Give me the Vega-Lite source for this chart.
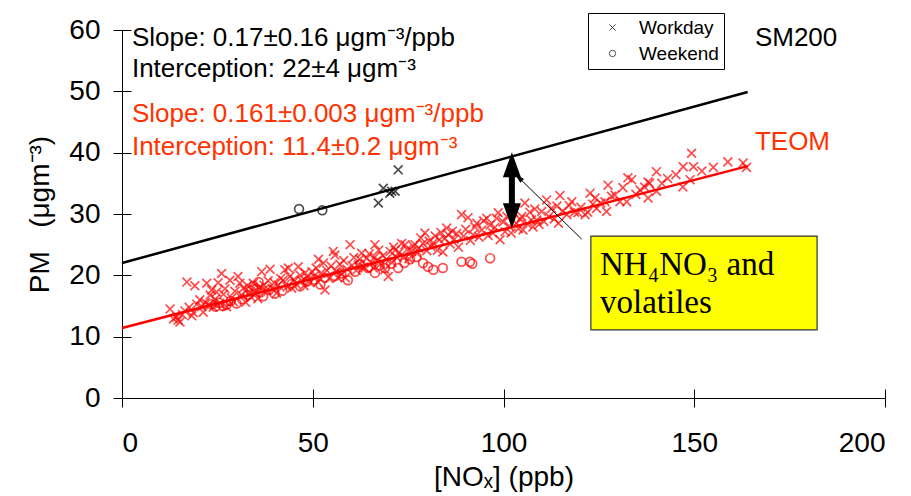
{
  "$schema": "https://vega.github.io/schema/vega-lite/v6.json",
  "width": 763,
  "height": 368,
  "autosize": "none",
  "padding": {"left": 122, "top": 30, "right": 26, "bottom": 98},
  "background": "white",
  "config": {
    "view": {"stroke": null},
    "font": "Liberation Sans",
    "axis": {
      "domainColor": "black",
      "tickColor": "black",
      "labelColor": "black",
      "titleColor": "black",
      "grid": false,
      "labelFont": "Liberation Sans",
      "titleFont": "Liberation Sans",
      "titleFontWeight": "normal"
    }
  },
  "datasets": {
    "pts": [
      {"nox":12.6,"pm":14.5,"inst":"TEOM","day":"Workday"},{"nox":13.5,"pm":12.9,"inst":"TEOM","day":"Workday"},{"nox":14.3,"pm":13.2,"inst":"TEOM","day":"Workday"},{"nox":14.7,"pm":12.7,"inst":"TEOM","day":"Workday"},{"nox":15.2,"pm":12.4,"inst":"TEOM","day":"Workday"},
      {"nox":15.8,"pm":13.6,"inst":"TEOM","day":"Workday"},{"nox":16.5,"pm":14.2,"inst":"TEOM","day":"Workday"},{"nox":17.0,"pm":18.9,"inst":"TEOM","day":"Workday"},{"nox":17.6,"pm":14.8,"inst":"TEOM","day":"Workday"},{"nox":18.3,"pm":13.4,"inst":"TEOM","day":"Workday"},
      {"nox":18.7,"pm":13.9,"inst":"TEOM","day":"Workday"},{"nox":19.1,"pm":18.3,"inst":"TEOM","day":"Workday"},{"nox":19.6,"pm":15.3,"inst":"TEOM","day":"Workday"},{"nox":20.4,"pm":16.0,"inst":"TEOM","day":"Workday"},{"nox":20.9,"pm":14.9,"inst":"TEOM","day":"Workday"},
      {"nox":21.3,"pm":14.0,"inst":"TEOM","day":"Workday"},{"nox":21.8,"pm":15.6,"inst":"TEOM","day":"Workday"},{"nox":22.2,"pm":18.7,"inst":"TEOM","day":"Workday"},{"nox":22.7,"pm":15.2,"inst":"TEOM","day":"Workday"},{"nox":23.1,"pm":16.8,"inst":"TEOM","day":"Workday"},
      {"nox":23.5,"pm":17.6,"inst":"TEOM","day":"Workday"},{"nox":23.9,"pm":14.8,"inst":"TEOM","day":"Workday"},{"nox":24.4,"pm":16.1,"inst":"TEOM","day":"Workday"},{"nox":24.8,"pm":17.3,"inst":"TEOM","day":"Workday"},{"nox":25.2,"pm":18.8,"inst":"TEOM","day":"Workday"},
      {"nox":25.7,"pm":15.5,"inst":"TEOM","day":"Workday"},{"nox":26.1,"pm":20.3,"inst":"TEOM","day":"Workday"},{"nox":26.6,"pm":16.9,"inst":"TEOM","day":"Workday"},{"nox":27.0,"pm":17.8,"inst":"TEOM","day":"Workday"},{"nox":27.4,"pm":14.9,"inst":"TEOM","day":"Workday"},
      {"nox":28.3,"pm":19.2,"inst":"TEOM","day":"Workday"},{"nox":28.7,"pm":16.3,"inst":"TEOM","day":"Workday"},{"nox":29.2,"pm":15.7,"inst":"TEOM","day":"Workday"},{"nox":29.6,"pm":17.4,"inst":"TEOM","day":"Workday"},{"nox":30.4,"pm":19.8,"inst":"TEOM","day":"Workday"},
      {"nox":30.9,"pm":18.7,"inst":"TEOM","day":"Workday"},{"nox":31.3,"pm":16.8,"inst":"TEOM","day":"Workday"},{"nox":31.8,"pm":17.9,"inst":"TEOM","day":"Workday"},{"nox":32.4,"pm":15.6,"inst":"TEOM","day":"Workday"},{"nox":32.9,"pm":18.3,"inst":"TEOM","day":"Workday"},
      {"nox":33.5,"pm":17.2,"inst":"TEOM","day":"Workday"},{"nox":33.9,"pm":16.4,"inst":"TEOM","day":"Workday"},{"nox":34.4,"pm":18.7,"inst":"TEOM","day":"Workday"},{"nox":35.0,"pm":17.0,"inst":"TEOM","day":"Workday"},{"nox":35.6,"pm":16.2,"inst":"TEOM","day":"Workday"},
      {"nox":36.1,"pm":18.0,"inst":"TEOM","day":"Workday"},{"nox":36.6,"pm":20.6,"inst":"TEOM","day":"Workday"},{"nox":37.2,"pm":18.4,"inst":"TEOM","day":"Workday"},{"nox":37.8,"pm":17.5,"inst":"TEOM","day":"Workday"},{"nox":38.3,"pm":19.1,"inst":"TEOM","day":"Workday"},
      {"nox":38.8,"pm":21.0,"inst":"TEOM","day":"Workday"},{"nox":39.4,"pm":17.9,"inst":"TEOM","day":"Workday"},{"nox":39.9,"pm":18.8,"inst":"TEOM","day":"Workday"},{"nox":40.5,"pm":17.1,"inst":"TEOM","day":"Workday"},{"nox":41.0,"pm":18.4,"inst":"TEOM","day":"Workday"},
      {"nox":41.6,"pm":19.5,"inst":"TEOM","day":"Workday"},{"nox":42.2,"pm":19.2,"inst":"TEOM","day":"Workday"},{"nox":42.7,"pm":20.9,"inst":"TEOM","day":"Workday"},{"nox":43.3,"pm":18.1,"inst":"TEOM","day":"Workday"},{"nox":43.6,"pm":21.2,"inst":"TEOM","day":"Workday"},
      {"nox":44.0,"pm":19.8,"inst":"TEOM","day":"Workday"},{"nox":44.5,"pm":17.9,"inst":"TEOM","day":"Workday"},{"nox":45.1,"pm":19.3,"inst":"TEOM","day":"Workday"},{"nox":45.6,"pm":18.6,"inst":"TEOM","day":"Workday"},{"nox":46.2,"pm":21.4,"inst":"TEOM","day":"Workday"},
      {"nox":46.7,"pm":20.0,"inst":"TEOM","day":"Workday"},{"nox":47.2,"pm":19.1,"inst":"TEOM","day":"Workday"},{"nox":47.7,"pm":18.3,"inst":"TEOM","day":"Workday"},{"nox":48.0,"pm":20.4,"inst":"TEOM","day":"Workday"},{"nox":48.6,"pm":19.7,"inst":"TEOM","day":"Workday"},
      {"nox":49.3,"pm":18.8,"inst":"TEOM","day":"Workday"},{"nox":49.8,"pm":20.6,"inst":"TEOM","day":"Workday"},{"nox":50.4,"pm":19.9,"inst":"TEOM","day":"Workday"},{"nox":50.9,"pm":21.2,"inst":"TEOM","day":"Workday"},{"nox":51.4,"pm":18.9,"inst":"TEOM","day":"Workday"},
      {"nox":51.5,"pm":22.6,"inst":"TEOM","day":"Workday"},{"nox":52.1,"pm":20.3,"inst":"TEOM","day":"Workday"},{"nox":52.8,"pm":22.0,"inst":"TEOM","day":"Workday"},{"nox":53.2,"pm":17.6,"inst":"TEOM","day":"Workday"},{"nox":53.7,"pm":20.8,"inst":"TEOM","day":"Workday"},
      {"nox":54.3,"pm":19.5,"inst":"TEOM","day":"Workday"},{"nox":54.8,"pm":21.5,"inst":"TEOM","day":"Workday"},{"nox":55.4,"pm":23.9,"inst":"TEOM","day":"Workday"},{"nox":55.8,"pm":23.3,"inst":"TEOM","day":"Workday"},{"nox":56.2,"pm":20.7,"inst":"TEOM","day":"Workday"},
      {"nox":56.6,"pm":19.6,"inst":"TEOM","day":"Workday"},{"nox":57.1,"pm":21.8,"inst":"TEOM","day":"Workday"},{"nox":57.6,"pm":20.2,"inst":"TEOM","day":"Workday"},{"nox":58.1,"pm":22.4,"inst":"TEOM","day":"Workday"},{"nox":58.5,"pm":19.6,"inst":"TEOM","day":"Workday"},
      {"nox":59.0,"pm":21.0,"inst":"TEOM","day":"Workday"},{"nox":59.8,"pm":25.0,"inst":"TEOM","day":"Workday"},{"nox":60.3,"pm":21.6,"inst":"TEOM","day":"Workday"},{"nox":60.8,"pm":22.9,"inst":"TEOM","day":"Workday"},{"nox":61.4,"pm":20.8,"inst":"TEOM","day":"Workday"},
      {"nox":61.9,"pm":21.7,"inst":"TEOM","day":"Workday"},{"nox":62.3,"pm":22.6,"inst":"TEOM","day":"Workday"},{"nox":62.8,"pm":23.6,"inst":"TEOM","day":"Workday"},{"nox":63.3,"pm":21.3,"inst":"TEOM","day":"Workday"},{"nox":63.7,"pm":21.2,"inst":"TEOM","day":"Workday"},
      {"nox":64.2,"pm":22.8,"inst":"TEOM","day":"Workday"},{"nox":64.8,"pm":23.5,"inst":"TEOM","day":"Workday"},{"nox":65.4,"pm":22.0,"inst":"TEOM","day":"Workday"},{"nox":65.9,"pm":21.2,"inst":"TEOM","day":"Workday"},{"nox":66.3,"pm":25.0,"inst":"TEOM","day":"Workday"},
      {"nox":66.3,"pm":23.0,"inst":"TEOM","day":"Workday"},{"nox":66.8,"pm":22.4,"inst":"TEOM","day":"Workday"},{"nox":67.3,"pm":24.1,"inst":"TEOM","day":"Workday"},{"nox":67.8,"pm":21.9,"inst":"TEOM","day":"Workday"},{"nox":68.4,"pm":23.2,"inst":"TEOM","day":"Workday"},
      {"nox":68.9,"pm":20.9,"inst":"TEOM","day":"Workday"},{"nox":69.3,"pm":22.6,"inst":"TEOM","day":"Workday"},{"nox":69.8,"pm":19.8,"inst":"TEOM","day":"Workday"},{"nox":70.3,"pm":23.9,"inst":"TEOM","day":"Workday"},{"nox":70.8,"pm":22.1,"inst":"TEOM","day":"Workday"},
      {"nox":71.2,"pm":24.6,"inst":"TEOM","day":"Workday"},{"nox":71.6,"pm":24.1,"inst":"TEOM","day":"Workday"},{"nox":72.1,"pm":22.9,"inst":"TEOM","day":"Workday"},{"nox":72.6,"pm":23.7,"inst":"TEOM","day":"Workday"},{"nox":73.3,"pm":25.2,"inst":"TEOM","day":"Workday"},
      {"nox":73.8,"pm":23.1,"inst":"TEOM","day":"Workday"},{"nox":74.2,"pm":25.0,"inst":"TEOM","day":"Workday"},{"nox":74.7,"pm":24.2,"inst":"TEOM","day":"Workday"},{"nox":75.2,"pm":22.7,"inst":"TEOM","day":"Workday"},{"nox":75.9,"pm":23.9,"inst":"TEOM","day":"Workday"},
      {"nox":76.3,"pm":24.8,"inst":"TEOM","day":"Workday"},{"nox":76.8,"pm":25.0,"inst":"TEOM","day":"Workday"},{"nox":77.3,"pm":23.6,"inst":"TEOM","day":"Workday"},{"nox":77.8,"pm":24.4,"inst":"TEOM","day":"Workday"},{"nox":78.3,"pm":26.1,"inst":"TEOM","day":"Workday"},
      {"nox":78.9,"pm":25.2,"inst":"TEOM","day":"Workday"},{"nox":79.4,"pm":26.9,"inst":"TEOM","day":"Workday"},{"nox":79.9,"pm":24.0,"inst":"TEOM","day":"Workday"},{"nox":80.5,"pm":25.6,"inst":"TEOM","day":"Workday"},{"nox":81.0,"pm":24.7,"inst":"TEOM","day":"Workday"},
      {"nox":81.6,"pm":25.3,"inst":"TEOM","day":"Workday"},{"nox":82.1,"pm":26.4,"inst":"TEOM","day":"Workday"},{"nox":82.7,"pm":24.1,"inst":"TEOM","day":"Workday"},{"nox":83.2,"pm":25.8,"inst":"TEOM","day":"Workday"},{"nox":83.6,"pm":27.0,"inst":"TEOM","day":"Workday"},
      {"nox":84.1,"pm":23.8,"inst":"TEOM","day":"Workday"},{"nox":84.6,"pm":26.0,"inst":"TEOM","day":"Workday"},{"nox":85.1,"pm":27.7,"inst":"TEOM","day":"Workday"},{"nox":85.5,"pm":26.6,"inst":"TEOM","day":"Workday"},{"nox":86.0,"pm":25.1,"inst":"TEOM","day":"Workday"},
      {"nox":86.6,"pm":27.2,"inst":"TEOM","day":"Workday"},{"nox":87.1,"pm":25.9,"inst":"TEOM","day":"Workday"},{"nox":87.7,"pm":26.8,"inst":"TEOM","day":"Workday"},{"nox":88.2,"pm":24.6,"inst":"TEOM","day":"Workday"},{"nox":89.0,"pm":29.9,"inst":"TEOM","day":"Workday"},
      {"nox":89.5,"pm":26.4,"inst":"TEOM","day":"Workday"},{"nox":90.1,"pm":27.5,"inst":"TEOM","day":"Workday"},{"nox":90.7,"pm":29.4,"inst":"TEOM","day":"Workday"},{"nox":91.3,"pm":25.7,"inst":"TEOM","day":"Workday"},{"nox":92.0,"pm":26.6,"inst":"TEOM","day":"Workday"},
      {"nox":92.5,"pm":27.9,"inst":"TEOM","day":"Workday"},{"nox":93.0,"pm":28.5,"inst":"TEOM","day":"Workday"},{"nox":93.6,"pm":26.2,"inst":"TEOM","day":"Workday"},{"nox":94.3,"pm":27.4,"inst":"TEOM","day":"Workday"},{"nox":94.8,"pm":28.9,"inst":"TEOM","day":"Workday"},
      {"nox":95.6,"pm":29.3,"inst":"TEOM","day":"Workday"},{"nox":96.0,"pm":26.5,"inst":"TEOM","day":"Workday"},{"nox":96.5,"pm":28.2,"inst":"TEOM","day":"Workday"},{"nox":97.2,"pm":26.9,"inst":"TEOM","day":"Workday"},{"nox":97.7,"pm":27.8,"inst":"TEOM","day":"Workday"},
      {"nox":98.2,"pm":29.3,"inst":"TEOM","day":"Workday"},{"nox":98.6,"pm":30.2,"inst":"TEOM","day":"Workday"},{"nox":99.1,"pm":25.8,"inst":"TEOM","day":"Workday"},{"nox":99.9,"pm":28.7,"inst":"TEOM","day":"Workday"},{"nox":100.4,"pm":27.1,"inst":"TEOM","day":"Workday"},
      {"nox":100.9,"pm":29.6,"inst":"TEOM","day":"Workday"},{"nox":101.5,"pm":28.0,"inst":"TEOM","day":"Workday"},{"nox":102.0,"pm":26.9,"inst":"TEOM","day":"Workday"},{"nox":102.6,"pm":30.3,"inst":"TEOM","day":"Workday"},{"nox":103.4,"pm":28.5,"inst":"TEOM","day":"Workday"},
      {"nox":103.9,"pm":27.6,"inst":"TEOM","day":"Workday"},{"nox":104.4,"pm":29.1,"inst":"TEOM","day":"Workday"},{"nox":104.8,"pm":29.6,"inst":"TEOM","day":"Workday"},{"nox":105.1,"pm":27.4,"inst":"TEOM","day":"Workday"},{"nox":105.6,"pm":31.8,"inst":"TEOM","day":"Workday"},
      {"nox":106.2,"pm":28.4,"inst":"TEOM","day":"Workday"},{"nox":106.9,"pm":30.3,"inst":"TEOM","day":"Workday"},{"nox":107.3,"pm":29.0,"inst":"TEOM","day":"Workday"},{"nox":107.7,"pm":27.9,"inst":"TEOM","day":"Workday"},{"nox":108.2,"pm":30.8,"inst":"TEOM","day":"Workday"},
      {"nox":108.7,"pm":29.0,"inst":"TEOM","day":"Workday"},{"nox":109.3,"pm":28.3,"inst":"TEOM","day":"Workday"},{"nox":110.0,"pm":30.4,"inst":"TEOM","day":"Workday"},{"nox":110.6,"pm":28.8,"inst":"TEOM","day":"Workday"},{"nox":111.3,"pm":32.3,"inst":"TEOM","day":"Workday"},
      {"nox":111.9,"pm":29.6,"inst":"TEOM","day":"Workday"},{"nox":112.6,"pm":30.9,"inst":"TEOM","day":"Workday"},{"nox":113.3,"pm":29.2,"inst":"TEOM","day":"Workday"},{"nox":114.0,"pm":31.3,"inst":"TEOM","day":"Workday"},{"nox":114.4,"pm":28.5,"inst":"TEOM","day":"Workday"},
      {"nox":114.8,"pm":33.0,"inst":"TEOM","day":"Workday"},{"nox":115.5,"pm":30.5,"inst":"TEOM","day":"Workday"},{"nox":116.6,"pm":29.9,"inst":"TEOM","day":"Workday"},{"nox":117.2,"pm":31.4,"inst":"TEOM","day":"Workday"},{"nox":117.9,"pm":32.0,"inst":"TEOM","day":"Workday"},
      {"nox":118.6,"pm":30.3,"inst":"TEOM","day":"Workday"},{"nox":119.5,"pm":30.2,"inst":"TEOM","day":"Workday"},{"nox":120.3,"pm":31.1,"inst":"TEOM","day":"Workday"},{"nox":121.4,"pm":29.9,"inst":"TEOM","day":"Workday"},{"nox":122.1,"pm":30.3,"inst":"TEOM","day":"Workday"},
      {"nox":122.7,"pm":33.4,"inst":"TEOM","day":"Workday"},{"nox":123.4,"pm":31.6,"inst":"TEOM","day":"Workday"},{"nox":124.0,"pm":32.6,"inst":"TEOM","day":"Workday"},{"nox":124.4,"pm":30.9,"inst":"TEOM","day":"Workday"},{"nox":125.5,"pm":31.8,"inst":"TEOM","day":"Workday"},
      {"nox":126.6,"pm":32.0,"inst":"TEOM","day":"Workday"},{"nox":127.0,"pm":30.4,"inst":"TEOM","day":"Workday"},{"nox":127.4,"pm":34.7,"inst":"TEOM","day":"Workday"},{"nox":128.3,"pm":32.9,"inst":"TEOM","day":"Workday"},{"nox":129.2,"pm":33.1,"inst":"TEOM","day":"Workday"},
      {"nox":130.5,"pm":32.0,"inst":"TEOM","day":"Workday"},{"nox":131.3,"pm":34.3,"inst":"TEOM","day":"Workday"},{"nox":132.3,"pm":32.0,"inst":"TEOM","day":"Workday"},{"nox":132.6,"pm":35.9,"inst":"TEOM","day":"Workday"},{"nox":133.6,"pm":35.6,"inst":"TEOM","day":"Workday"},
      {"nox":134.7,"pm":33.2,"inst":"TEOM","day":"Workday"},{"nox":135.8,"pm":33.9,"inst":"TEOM","day":"Workday"},{"nox":137.0,"pm":34.4,"inst":"TEOM","day":"Workday"},{"nox":137.9,"pm":35.2,"inst":"TEOM","day":"Workday"},{"nox":138.3,"pm":35.0,"inst":"TEOM","day":"Workday"},
      {"nox":137.9,"pm":32.6,"inst":"TEOM","day":"Workday"},{"nox":140.1,"pm":36.9,"inst":"TEOM","day":"Workday"},{"nox":140.1,"pm":33.7,"inst":"TEOM","day":"Workday"},{"nox":141.5,"pm":35.0,"inst":"TEOM","day":"Workday"},{"nox":143.0,"pm":35.8,"inst":"TEOM","day":"Workday"},
      {"nox":145.2,"pm":36.4,"inst":"TEOM","day":"Workday"},{"nox":147.0,"pm":34.4,"inst":"TEOM","day":"Workday"},{"nox":147.1,"pm":37.7,"inst":"TEOM","day":"Workday"},{"nox":148.9,"pm":35.6,"inst":"TEOM","day":"Workday"},{"nox":149.3,"pm":39.9,"inst":"TEOM","day":"Workday"},
      {"nox":149.8,"pm":37.7,"inst":"TEOM","day":"Workday"},{"nox":152.0,"pm":37.0,"inst":"TEOM","day":"Workday"},{"nox":155.0,"pm":37.6,"inst":"TEOM","day":"Workday"},{"nox":158.8,"pm":38.5,"inst":"TEOM","day":"Workday"},{"nox":162.8,"pm":38.3,"inst":"TEOM","day":"Workday"},
      {"nox":163.7,"pm":37.6,"inst":"TEOM","day":"Workday"},
      {"nox":23.5,"pm":15.3,"inst":"TEOM","day":"Weekend"},{"nox":24.5,"pm":14.9,"inst":"TEOM","day":"Weekend"},{"nox":25.5,"pm":15.5,"inst":"TEOM","day":"Weekend"},{"nox":26.5,"pm":15.0,"inst":"TEOM","day":"Weekend"},{"nox":27.4,"pm":15.2,"inst":"TEOM","day":"Weekend"},
      {"nox":28.5,"pm":15.8,"inst":"TEOM","day":"Weekend"},{"nox":30.0,"pm":15.4,"inst":"TEOM","day":"Weekend"},{"nox":31.5,"pm":16.1,"inst":"TEOM","day":"Weekend"},{"nox":33.0,"pm":16.8,"inst":"TEOM","day":"Weekend"},{"nox":33.8,"pm":17.5,"inst":"TEOM","day":"Weekend"},
      {"nox":34.5,"pm":18.3,"inst":"TEOM","day":"Weekend"},{"nox":35.2,"pm":17.8,"inst":"TEOM","day":"Weekend"},{"nox":35.8,"pm":18.9,"inst":"TEOM","day":"Weekend"},{"nox":36.3,"pm":17.2,"inst":"TEOM","day":"Weekend"},{"nox":37.0,"pm":16.6,"inst":"TEOM","day":"Weekend"},
      {"nox":38.5,"pm":17.6,"inst":"TEOM","day":"Weekend"},{"nox":40.0,"pm":17.0,"inst":"TEOM","day":"Weekend"},{"nox":42.0,"pm":17.5,"inst":"TEOM","day":"Weekend"},{"nox":44.5,"pm":18.6,"inst":"TEOM","day":"Weekend"},{"nox":46.7,"pm":18.2,"inst":"TEOM","day":"Weekend"},
      {"nox":48.5,"pm":19.0,"inst":"TEOM","day":"Weekend"},{"nox":50.5,"pm":19.3,"inst":"TEOM","day":"Weekend"},{"nox":52.0,"pm":18.5,"inst":"TEOM","day":"Weekend"},{"nox":53.2,"pm":19.6,"inst":"TEOM","day":"Weekend"},{"nox":55.8,"pm":19.9,"inst":"TEOM","day":"Weekend"},
      {"nox":57.5,"pm":20.3,"inst":"TEOM","day":"Weekend"},{"nox":59.2,"pm":19.2,"inst":"TEOM","day":"Weekend"},{"nox":61.1,"pm":20.6,"inst":"TEOM","day":"Weekend"},{"nox":62.5,"pm":21.8,"inst":"TEOM","day":"Weekend"},{"nox":64.5,"pm":21.2,"inst":"TEOM","day":"Weekend"},
      {"nox":66.3,"pm":20.4,"inst":"TEOM","day":"Weekend"},{"nox":67.5,"pm":21.6,"inst":"TEOM","day":"Weekend"},{"nox":68.9,"pm":21.2,"inst":"TEOM","day":"Weekend"},{"nox":70.5,"pm":21.9,"inst":"TEOM","day":"Weekend"},{"nox":72.4,"pm":21.2,"inst":"TEOM","day":"Weekend"},
      {"nox":74.0,"pm":22.0,"inst":"TEOM","day":"Weekend"},{"nox":75.5,"pm":22.6,"inst":"TEOM","day":"Weekend"},{"nox":77.2,"pm":23.0,"inst":"TEOM","day":"Weekend"},{"nox":78.9,"pm":22.0,"inst":"TEOM","day":"Weekend"},{"nox":80.2,"pm":21.4,"inst":"TEOM","day":"Weekend"},
      {"nox":81.6,"pm":20.9,"inst":"TEOM","day":"Weekend"},{"nox":84.1,"pm":21.2,"inst":"TEOM","day":"Weekend"},{"nox":89.0,"pm":22.2,"inst":"TEOM","day":"Weekend"},{"nox":91.2,"pm":22.2,"inst":"TEOM","day":"Weekend"},{"nox":91.8,"pm":21.9,"inst":"TEOM","day":"Weekend"},
      {"nox":96.5,"pm":22.8,"inst":"TEOM","day":"Weekend"},
      {"nox":67.2,"pm":31.8,"inst":"SM200","day":"Workday"},{"nox":68.5,"pm":34.2,"inst":"SM200","day":"Workday"},{"nox":70.2,"pm":33.4,"inst":"SM200","day":"Workday"},{"nox":70.7,"pm":33.7,"inst":"SM200","day":"Workday"},{"nox":71.6,"pm":33.7,"inst":"SM200","day":"Workday"},
      {"nox":72.4,"pm":37.2,"inst":"SM200","day":"Workday"},
      {"nox":46.4,"pm":30.8,"inst":"SM200","day":"Weekend"},{"nox":52.5,"pm":30.6,"inst":"SM200","day":"Weekend"}
    ]
  },
  "layer": [
    {
      "data": {"name": "pts"},
      "mark": {"type": "point", "filled": false, "strokeWidth": 1.7},
      "encoding": {
        "x": {"field": "nox", "type": "quantitative", "scale": {"domain": [0, 200], "nice": false, "zero": false},
          "axis": {"values": [0, 50, 100, 150, 200], "tickSize": 9, "labelFontSize": 28, "labelPadding": 22, "title": "[NOₓ] (ppb)", "titleFontSize": 28, "titlePadding": 6}},
        "y": {"field": "pm", "type": "quantitative", "scale": {"domain": [0, 60], "nice": false, "zero": false},
          "axis": {"values": [0, 10, 20, 30, 40, 50, 60], "tickSize": 9, "labelFontSize": 28, "labelPadding": 13, "title": "PM\u00a0\u00a0\u00a0(μgm⁻³)", "titleFontSize": 28, "titlePadding": 14}},
        "color": {"field": "inst", "type": "nominal", "scale": {"domain": ["TEOM", "SM200"], "range": ["#ff0000", "#000000"]}, "legend": null},
        "shape": {"field": "day", "type": "nominal", "scale": {"domain": ["Workday", "Weekend"], "range": ["M-1,-1L1,1M-1,1L1,-1", "circle"]},
          "legend": {"title": null, "orient": "none", "legendX": 466, "legendY": -17, "strokeColor": "black", "fillColor": "white", "padding": 5, "symbolOffset": 10, "labelOffset": 17, "labelFontSize": 19, "labelFont": "Liberation Sans", "labelColor": "black", "symbolStrokeColor": "black", "symbolFillColor": "white", "symbolSize": 40, "symbolStrokeWidth": 1, "rowPadding": 6}},
        "size": {"value": 78}
      }
    },
    {
      "data": {"values": [
        {"inst": "SM200", "nox": 0, "pm": 22},
        {"inst": "SM200", "nox": 164, "pm": 49.9},
        {"inst": "TEOM", "nox": 0, "pm": 11.4},
        {"inst": "TEOM", "nox": 164, "pm": 37.8}
      ]},
      "mark": {"type": "line", "strokeWidth": 2.5},
      "encoding": {
        "x": {"field": "nox", "type": "quantitative",
          "axis": {"orient": "bottom", "values": [0, 50, 100, 150, 200], "tickSize": -9, "domain": false, "labels": false, "title": null}},
        "y": {"field": "pm", "type": "quantitative",
          "axis": {"orient": "left", "values": [0, 10, 20, 30, 40, 50, 60], "tickSize": -9, "domain": false, "labels": false, "title": null}},
        "color": {"field": "inst", "type": "nominal", "legend": null}
      }
    },
    {
      "data": {"values": [{"x1": 122.9, "x2": 182.2, "y1": 11.1, "y2": 26.4}]},
      "mark": {"type": "rect", "fill": "#ffff00", "stroke": "#333333", "strokeWidth": 1.2},
      "encoding": {
        "x": {"field": "x1", "type": "quantitative", "axis": null},
        "x2": {"field": "x2"},
        "y": {"field": "y1", "type": "quantitative", "axis": null},
        "y2": {"field": "y2"}
      }
    },
    {
      "data": {"values": [
        {"nox": 125.3, "pm": 21.7, "label": "NH₄NO₃ and"},
        {"nox": 125.3, "pm": 15.5, "label": "volatiles"}
      ]},
      "mark": {"type": "text", "font": "Liberation Serif", "fontSize": 33, "align": "left", "baseline": "middle", "color": "black"},
      "encoding": {
        "x": {"field": "nox", "type": "quantitative", "axis": null},
        "y": {"field": "pm", "type": "quantitative", "axis": null},
        "text": {"field": "label"}
      }
    },
    {
      "data": {"values": [
        {"nox": 2.6, "pm": 58.7, "label": "Slope: 0.17±0.16 μgm⁻³/ppb"},
        {"nox": 2.6, "pm": 53.6, "label": "Interception: 22±4 μgm⁻³"},
        {"nox": 165.9, "pm": 58.7, "label": "SM200"}
      ]},
      "mark": {"type": "text", "font": "Liberation Sans", "fontSize": 26, "align": "left", "baseline": "middle", "color": "black"},
      "encoding": {
        "x": {"field": "nox", "type": "quantitative", "axis": null},
        "y": {"field": "pm", "type": "quantitative", "axis": null},
        "text": {"field": "label"}
      }
    },
    {
      "data": {"values": [
        {"nox": 2.6, "pm": 46.3, "label": "Slope: 0.161±0.003 μgm⁻³/ppb"},
        {"nox": 2.6, "pm": 40.9, "label": "Interception: 11.4±0.2 μgm⁻³"},
        {"nox": 165.9, "pm": 41.8, "label": "TEOM"}
      ]},
      "mark": {"type": "text", "font": "Liberation Sans", "fontSize": 26, "align": "left", "baseline": "middle", "color": "#ff3300"},
      "encoding": {
        "x": {"field": "nox", "type": "quantitative", "axis": null},
        "y": {"field": "pm", "type": "quantitative", "axis": null},
        "text": {"field": "label"}
      }
    },
    {
      "data": {"values": [{"nox": 102.2, "pm": 36.8, "pm2": 30.6}]},
      "mark": {"type": "rule", "strokeWidth": 6, "color": "black"},
      "encoding": {
        "x": {"field": "nox", "type": "quantitative", "axis": null},
        "y": {"field": "pm", "type": "quantitative", "axis": null},
        "y2": {"field": "pm2"}
      }
    },
    {
      "data": {"values": [{"nox": 102.2, "pm": 38.05}]},
      "mark": {"type": "point", "shape": "M0,-1L0.72,1L-0.72,1Z", "size": 625, "filled": true, "color": "black", "opacity": 1},
      "encoding": {
        "x": {"field": "nox", "type": "quantitative", "axis": null},
        "y": {"field": "pm", "type": "quantitative", "axis": null}
      }
    },
    {
      "data": {"values": [{"nox": 102.2, "pm": 29.7}]},
      "mark": {"type": "point", "shape": "M0,1L0.72,-1L-0.72,-1Z", "size": 625, "filled": true, "color": "black", "opacity": 1},
      "encoding": {
        "x": {"field": "nox", "type": "quantitative", "axis": null},
        "y": {"field": "pm", "type": "quantitative", "axis": null}
      }
    },
    {
      "data": {"values": [{"nox": 120.5, "pm": 25.9, "nox2": 103.9, "pm2": 36.0}]},
      "mark": {"type": "rule", "strokeWidth": 1, "color": "black"},
      "encoding": {
        "x": {"field": "nox", "type": "quantitative", "axis": null},
        "y": {"field": "pm", "type": "quantitative", "axis": null},
        "x2": {"field": "nox2"},
        "y2": {"field": "pm2"}
      }
    },
    {
      "data": {"values": [{"nox": 103.9, "pm": 36.0}]},
      "mark": {"type": "point", "shape": "M0,-1L0.5,1L-0.5,1Z", "size": 110, "angle": 314, "filled": true, "color": "black", "opacity": 1},
      "encoding": {
        "x": {"field": "nox", "type": "quantitative", "axis": null},
        "y": {"field": "pm", "type": "quantitative", "axis": null}
      }
    }
  ],
  "resolve": {"axis": {"x": "independent", "y": "independent"}}
}
